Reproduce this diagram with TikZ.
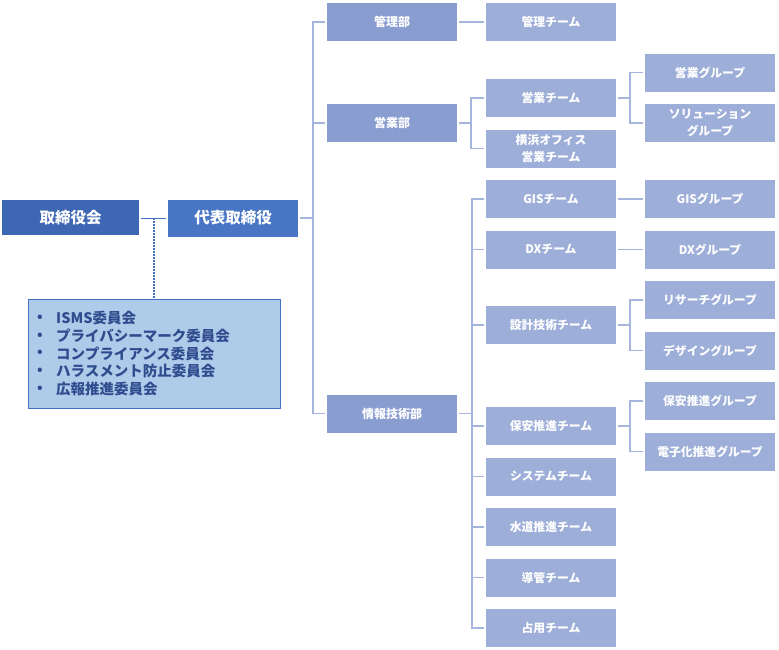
\documentclass[tikz,border=0pt]{standalone}
\usepackage{fontspec}
\setmainfont{Noto Sans CJK JP}
\definecolor{topA}{HTML}{3E67B3}
\definecolor{topB}{HTML}{4876C5}
\definecolor{deptc}{HTML}{8A9DD0}
\definecolor{teamc}{HTML}{9DAED8}
\definecolor{linec}{HTML}{A6B5DE}
\definecolor{commfill}{HTML}{AFCBEA}
\definecolor{commdraw}{HTML}{4472C4}
\definecolor{commtext}{HTML}{2F4D8E}
\begin{document}
\begin{tikzpicture}[x=1pt,y=-1pt,
  box/.style={rectangle, inner sep=0pt, outer sep=0pt, minimum width=130pt, minimum height=38pt,
    text=white, align=center, font=\bfseries\fontsize{11.8}{17.5}\selectfont},
  dept/.style={box, fill=deptc, font=\bfseries\fontsize{12}{15}\selectfont},
  team/.style={box, fill=teamc},
  topbox/.style={box, font=\bfseries\fontsize{15.5}{17}\selectfont},
  conn/.style={draw=linec, line width=1.2pt},
  commline/.style={anchor=west, text=commtext, inner sep=0pt, font=\bfseries\fontsize{14.5}{16}\selectfont},
  bullet/.style={text=commtext, inner sep=0pt, font=\bfseries\fontsize{14}{14}\selectfont}
]
\useasboundingbox (0,0) rectangle (779,649);

% top level
\node[topbox, fill=topA, minimum width=137pt, minimum height=35pt] (board) at (70.5,217.5) {取締役会};
\node[topbox, fill=topB, minimum width=130pt, minimum height=37pt] (ceo) at (233,218) {代表取締役};

% committee box
\node[rectangle, draw=commdraw, fill=commfill, line width=1pt, minimum width=252pt, minimum height=109pt, inner sep=0pt]
  (comm) at (154,353.5) {};
\foreach \i/\y/\t in {1/318/ISMS委員会, 2/336/プライバシーマーク委員会, 3/353.5/コンプライアンス委員会, 4/371/ハラスメント防止委員会, 5/389/広報推進委員会}{
  \node[bullet] (b\i) at (40,\y) {•};
  \node[commline] (c\i) at (56,\y) {\t};
}

% departments
\node[dept] (kanri) at (392,22) {管理部};
\node[dept] (eigyo) at (392,123) {営業部};
\node[dept] (joho)  at (392,413.5) {情報技術部};

% teams
\node[team] (kanriT) at (551,22) {管理チーム};
\node[team] (eigyoT) at (551,98) {営業チーム};
\node[team] (yoko)   at (551,148.5) {横浜オフィス\\営業チーム};
\node[team] (gisT)   at (551,199) {GISチーム};
\node[team] (dxT)    at (551,249.5) {DXチーム};
\node[team] (sekkei) at (551,325) {設計技術チーム};
\node[team] (hoanT)  at (551,426) {保安推進チーム};
\node[team] (sys)    at (551,476.5) {システムチーム};
\node[team] (suido)  at (551,527) {水道推進チーム};
\node[team] (dokan)  at (551,577.5) {導管チーム};
\node[team] (senyo)  at (551,628) {占用チーム};

% groups
\node[team] (eigyoG) at (710,72.5) {営業グループ};
\node[team] (sol)    at (710,123) {ソリューション\\グループ};
\node[team] (gisG)   at (710,199) {GISグループ};
\node[team] (dxG)    at (710,249.5) {DXグループ};
\node[team] (res)    at (710,300) {リサーチグループ};
\node[team] (des)    at (710,350.5) {デザイングループ};
\node[team] (hoanG)  at (710,401) {保安推進グループ};
\node[team] (denshi) at (710,451.5) {電子化推進グループ};

% connectors: board level
\draw[draw=commdraw, line width=1pt] ([xshift=2pt]board.east |- ceo.west) coordinate (bj) -- ([xshift=-2pt]ceo.west);
\coordinate (dotTop) at (154,218);
\draw[draw=commdraw, line width=1.5pt, dash pattern=on 1.5pt off 1.5pt] (dotTop) -- (dotTop |- comm.north);

% ceo to departments
\coordinate (trunk) at (313,218);
\draw[conn] ([xshift=2pt]ceo.east) -- (trunk);
\draw[conn] ([xshift=-2pt]kanri.west) -- ++(-12,0) |- ([xshift=-2pt]joho.west);
\draw[conn] ([xshift=-2pt]eigyo.west) -- ++(-12,0);

% kanri
\draw[conn] ([xshift=2pt]kanri.east) -- ([xshift=-2pt]kanriT.west);

% eigyo
\draw[conn] ([xshift=2pt]eigyo.east) -- ++(12,0) coordinate (ej);
\draw[conn] ([xshift=-2pt]eigyoT.west) -- ++(-13,0) |- ([xshift=-2pt]yoko.west);
\draw[conn] ([xshift=2pt]eigyoT.east) -- ++(12,0);
\draw[conn] ([xshift=-2pt]eigyoG.west) -- ++(-13,0) |- ([xshift=-2pt]sol.west);

% joho
\draw[conn] ([xshift=2pt]joho.east) -- ++(13,0);
\draw[conn] ([xshift=-2pt]gisT.west) -- ++(-12,0) |- ([xshift=-2pt]senyo.west);
\foreach \n in {dxT, sekkei, hoanT, sys, suido, dokan}{
  \draw[conn] ([xshift=-2pt]\n.west) -- ++(-12,0);
}
\draw[conn] ([xshift=2pt]gisT.east) -- ([xshift=-2pt]gisG.west);
\draw[conn] ([xshift=2pt]dxT.east) -- ([xshift=-2pt]dxG.west);
\draw[conn] ([xshift=2pt]sekkei.east) -- ++(12,0);
\draw[conn] ([xshift=-2pt]res.west) -- ++(-13,0) |- ([xshift=-2pt]des.west);
\draw[conn] ([xshift=2pt]hoanT.east) -- ++(12,0);
\draw[conn] ([xshift=-2pt]hoanG.west) -- ++(-13,0) |- ([xshift=-2pt]denshi.west);
\end{tikzpicture}
\end{document}
